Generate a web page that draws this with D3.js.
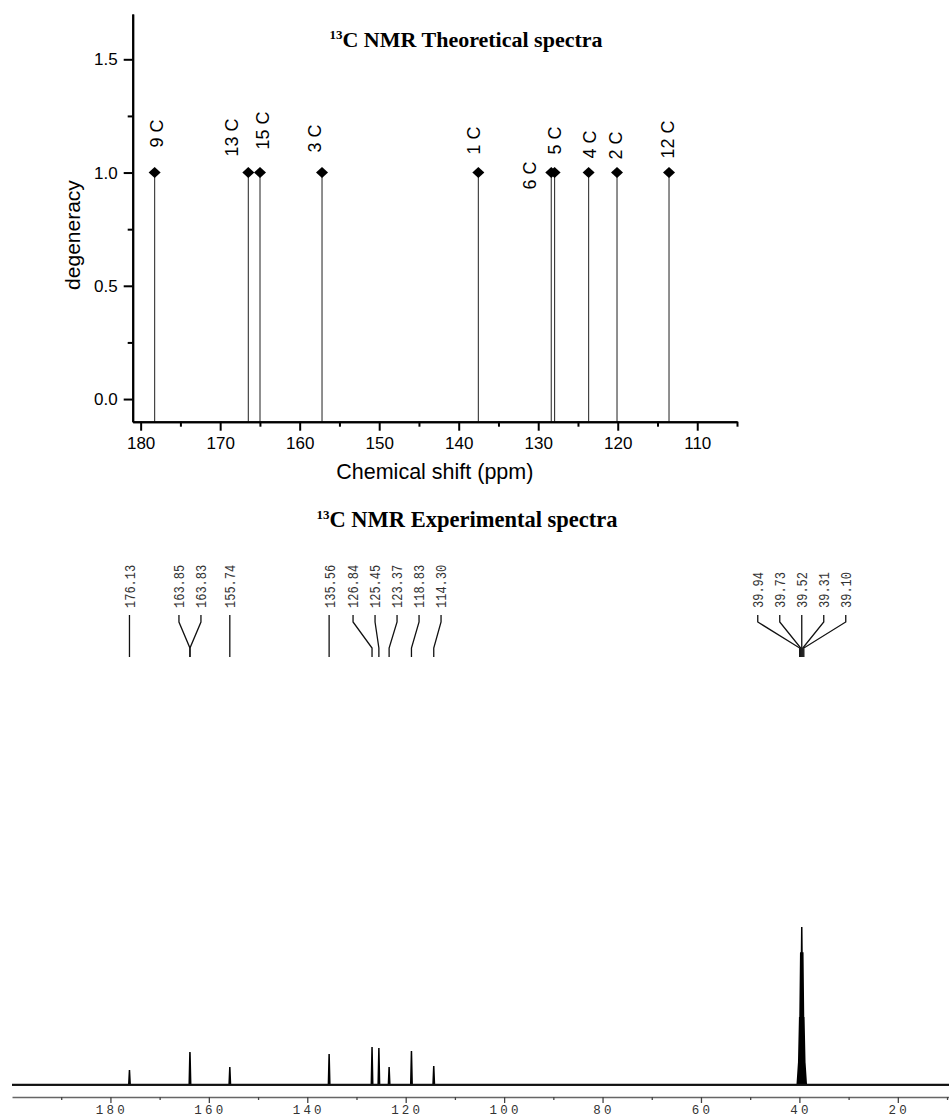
<!DOCTYPE html>
<html>
<head>
<meta charset="utf-8">
<script src="https://cdn.jsdelivr.net/npm/d3@7"></script>
<style>
  html, body { margin: 0; padding: 0; background: #fff; }
  svg { display: block; }
</style>
</head>
<body>
<svg id="chart" width="949" height="1118"></svg>
<script>
// ---- Theoretical 13C shifts (top panel) ----
const theoShift = [178.24, 166.46, 164.99, 157.19, 137.53, 128.36, 127.94, 123.66, 120.09, 113.55];
const theoDegeneracy = [1, 1, 1, 1, 1, 1, 1, 1, 1, 1];
const theoLabels = ["9 C", "13 C", "15 C", "3 C", "1 C", "6 C", "5 C", "4 C", "2 C", "12 C"];
const theoXTicks = [180, 170, 160, 150, 140, 130, 120, 110];
const theoYTicks = [0.0, 0.5, 1.0, 1.5];

// ---- Experimental 13C spectrum (bottom panel) ----
const expShift = [176.13, 163.85, 163.83, 155.74, 135.56, 126.84, 125.45, 123.37, 118.83, 114.30];
const expIntensity = [9.5, 20.9, 20.5, 11.4, 19.6, 24.1, 23.4, 11.4, 21.5, 12.0];
// DMSO-d6 septet
const solventShift = [40.15, 39.94, 39.73, 39.52, 39.31, 39.10, 38.89];
const solventIntensity = [14, 43, 84, 100, 84, 43, 14];
const solventLabelled = [39.94, 39.73, 39.52, 39.31, 39.10];
const expXTicks = [190, 180, 170, 160, 150, 140, 130, 120, 110, 100, 90, 80, 70, 60, 50, 40, 30, 20, 10];
const expXLabels = [180, 160, 140, 120, 100, 80, 60, 40, 20];

const svg = d3.select("#chart");
const sans = "'Liberation Sans', Arial, sans-serif";
const serif = "'Liberation Serif', 'Times New Roman', serif";
const mono = "'Liberation Mono', 'Courier New', monospace";

// ================= Top panel =================
const xT = d3.scaleLinear().domain([181, 105]).range([132.7, 737]);
const yT = d3.scaleLinear().domain([-0.1, 1.7]).range([421.7, 14]);

const topG = svg.append("g");

// title
const tTitle = topG.append("text")
  .attr("x", 466).attr("y", 47)
  .attr("text-anchor", "middle")
  .attr("font-family", serif).attr("font-weight", "bold").attr("font-size", 22);
tTitle.append("tspan").attr("font-size", 13).attr("dy", -8).text("13");
tTitle.append("tspan").attr("dy", 8).text("C NMR Theoretical spectra");

// stems
topG.selectAll("line.stem").data(theoShift).join("line")
  .attr("class", "stem")
  .attr("x1", d => xT(d)).attr("x2", d => xT(d))
  .attr("y1", (d, i) => yT(theoDegeneracy[i])).attr("y2", yT(-0.1))
  .attr("stroke", "#333").attr("stroke-width", 1.1);

// diamond markers
topG.selectAll("path.dia").data(theoShift).join("path")
  .attr("class", "dia")
  .attr("transform", (d, i) => `translate(${xT(d)},${yT(theoDegeneracy[i])})`)
  .attr("d", "M0,-5.5L6,0L0,5.5L-6,0Z")
  .attr("fill", "#000");

// label placement nudges (px): [dx, start offset from marker along y]
const theoLabelNudge = [[2, -25], [-17, -16], [3, -23], [-7, -20], [-5, -18],
                        [-22, 17], [0, -18], [1, -14], [-1, -13], [-1, -14]];
topG.selectAll("text.clab").data(theoShift).join("text")
  .attr("class", "clab")
  .attr("transform", (d, i) => `translate(${xT(d) + theoLabelNudge[i][0]},${yT(theoDegeneracy[i]) + theoLabelNudge[i][1]}) rotate(-90)`)
  .attr("dy", "0.35em")
  .attr("font-family", sans).attr("font-size", 18)
  .text((d, i) => theoLabels[i]);

// axes
const axT = topG.append("g").attr("transform", `translate(0,${yT(-0.1)})`)
  .call(d3.axisBottom(xT).tickValues(theoXTicks).tickSize(9).tickSizeOuter(0).tickPadding(6)
    .tickFormat(d3.format("d")));
const axTMinor = topG.append("g").attr("transform", `translate(0,${yT(-0.1)})`)
  .call(d3.axisBottom(xT).tickValues([175, 165, 155, 145, 135, 125, 115, 105]).tickSize(5).tickSizeOuter(0).tickFormat(""));
const ayT = topG.append("g").attr("transform", `translate(${xT(181)},0)`)
  .call(d3.axisLeft(yT).tickValues(theoYTicks).tickSize(9).tickSizeOuter(0).tickPadding(6)
    .tickFormat(d3.format(".1f")));
const ayTMinor = topG.append("g").attr("transform", `translate(${xT(181)},0)`)
  .call(d3.axisLeft(yT).tickValues([0.25, 0.75, 1.25]).tickSize(5).tickSizeOuter(0).tickFormat(""));

[axT, axTMinor, ayT, ayTMinor].forEach(g => {
  g.selectAll("path.domain").attr("stroke", "#000").attr("stroke-width", 2);
  g.selectAll(".tick line").attr("stroke", "#000").attr("stroke-width", 2);
  g.selectAll("text").attr("font-family", sans).attr("font-size", 17).attr("fill", "#000");
});

topG.append("text")
  .attr("x", (xT.range()[0] + xT.range()[1]) / 2).attr("y", 479)
  .attr("text-anchor", "middle")
  .attr("font-family", sans).attr("font-size", 21.5)
  .text("Chemical shift (ppm)");

topG.append("text")
  .attr("transform", "translate(80,235) rotate(-90)")
  .attr("text-anchor", "middle")
  .attr("font-family", sans).attr("font-size", 21)
  .text("degeneracy");

// ================= Bottom panel =================
const xE = d3.scaleLinear().domain([200, 9.6]).range([12, 949]);
const yE = d3.scaleLinear().domain([0, 100]).range([1085, 927]);

const botG = svg.append("g");

const eTitle = botG.append("text")
  .attr("x", 467).attr("y", 527)
  .attr("text-anchor", "middle")
  .attr("font-family", serif).attr("font-weight", "bold").attr("font-size", 22.5);
eTitle.append("tspan").attr("font-size", 13).attr("dy", -8).text("13");
eTitle.append("tspan").attr("dy", 8).text("C NMR Experimental spectra");

// spectrum trace: baseline with sharp sticks for each resonance
const peaks = expShift.map((s, i) => ({ s, h: expIntensity[i], w: 0.15 }))
  .concat(solventShift.map((s, i) => ({ s, h: solventIntensity[i], w: 0.3 })))
  .sort((a, b) => b.s - a.s);
const trace = [{ s: 200, h: 0 }];
peaks.forEach(p => {
  trace.push({ s: p.s + p.w, h: 0 });
  trace.push({ s: p.s, h: p.h });
  trace.push({ s: p.s - p.w, h: 0 });
});
trace.push({ s: 9.6, h: 0 });
botG.append("path")
  .datum(trace)
  .attr("d", d3.line().x(d => xE(d.s)).y(d => yE(d.h)))
  .attr("fill", "none").attr("stroke", "#000").attr("stroke-width", 1.5)
  .attr("stroke-linejoin", "miter");
// heavier baseline stroke
botG.append("line")
  .attr("x1", xE(200)).attr("x2", xE(9.6))
  .attr("y1", yE(0) - 0.3).attr("y2", yE(0) - 0.3)
  .attr("stroke", "#111").attr("stroke-width", 2);

// bottom axis
const axE = botG.append("g").attr("transform", "translate(0,1097)")
  .call(d3.axisBottom(xE).tickValues(expXTicks)
    .tickSize(3).tickSizeOuter(0).tickFormat(""));
axE.selectAll(".tick line")
  .attr("y2", d => expXLabels.includes(d) ? 6 : 3)
  .attr("stroke", "#444").attr("stroke-width", 1.3);
axE.select("path.domain").attr("stroke", "#666").attr("stroke-width", 1.6);
axE.selectAll("text.lbl").data(expXLabels).join("text")
  .attr("class", "lbl")
  .attr("x", d => xE(d) + 1.5).attr("y", 17)
  .attr("text-anchor", "middle")
  .attr("font-family", mono).attr("font-size", 12.5)
  .attr("letter-spacing", 3.2)
  .attr("fill", "#333")
  .text(d => d);

// peak labels with leader lines
const labelled = expShift.map(s => ({ s, x: xE(s) }))
  .concat(solventLabelled.map(s => ({ s, x: xE(s) })))
  .sort((a, b) => a.x - b.x);
const gap = 22;
// spread crowded labels into evenly spaced clusters centred on their peaks
let clusters = labelled.map(d => ({ items: [d], mean: d.x }));
let merged = true;
while (merged) {
  merged = false;
  for (let i = 0; i < clusters.length - 1; i++) {
    const a = clusters[i], b = clusters[i + 1];
    const aEnd = a.mean + (a.items.length - 1) * gap / 2;
    const bStart = b.mean - (b.items.length - 1) * gap / 2;
    if (bStart - aEnd < gap) {
      const items = a.items.concat(b.items);
      clusters.splice(i, 2, { items, mean: d3.mean(items, d => d.x) });
      merged = true;
      break;
    }
  }
}
clusters.forEach(c => {
  c.items.forEach((d, k) => { d.lx = c.mean + (k - (c.items.length - 1) / 2) * gap; });
});

botG.selectAll("path.lead").data(labelled).join("path")
  .attr("class", "lead")
  .attr("d", d => `M${d.lx},615V622L${d.x},648V657`)
  .attr("fill", "none").attr("stroke", "#111").attr("stroke-width", 1.3);

botG.selectAll("text.plab").data(labelled).join("text")
  .attr("class", "plab")
  .attr("transform", d => `translate(${d.lx},608) rotate(-90) scale(0.8,1)`)
  .attr("dy", "0.36em")
  .attr("font-family", mono).attr("font-size", 15)
  .attr("fill", "#333")
  .text(d => d.s.toFixed(2));
</script>
</body>
</html>
